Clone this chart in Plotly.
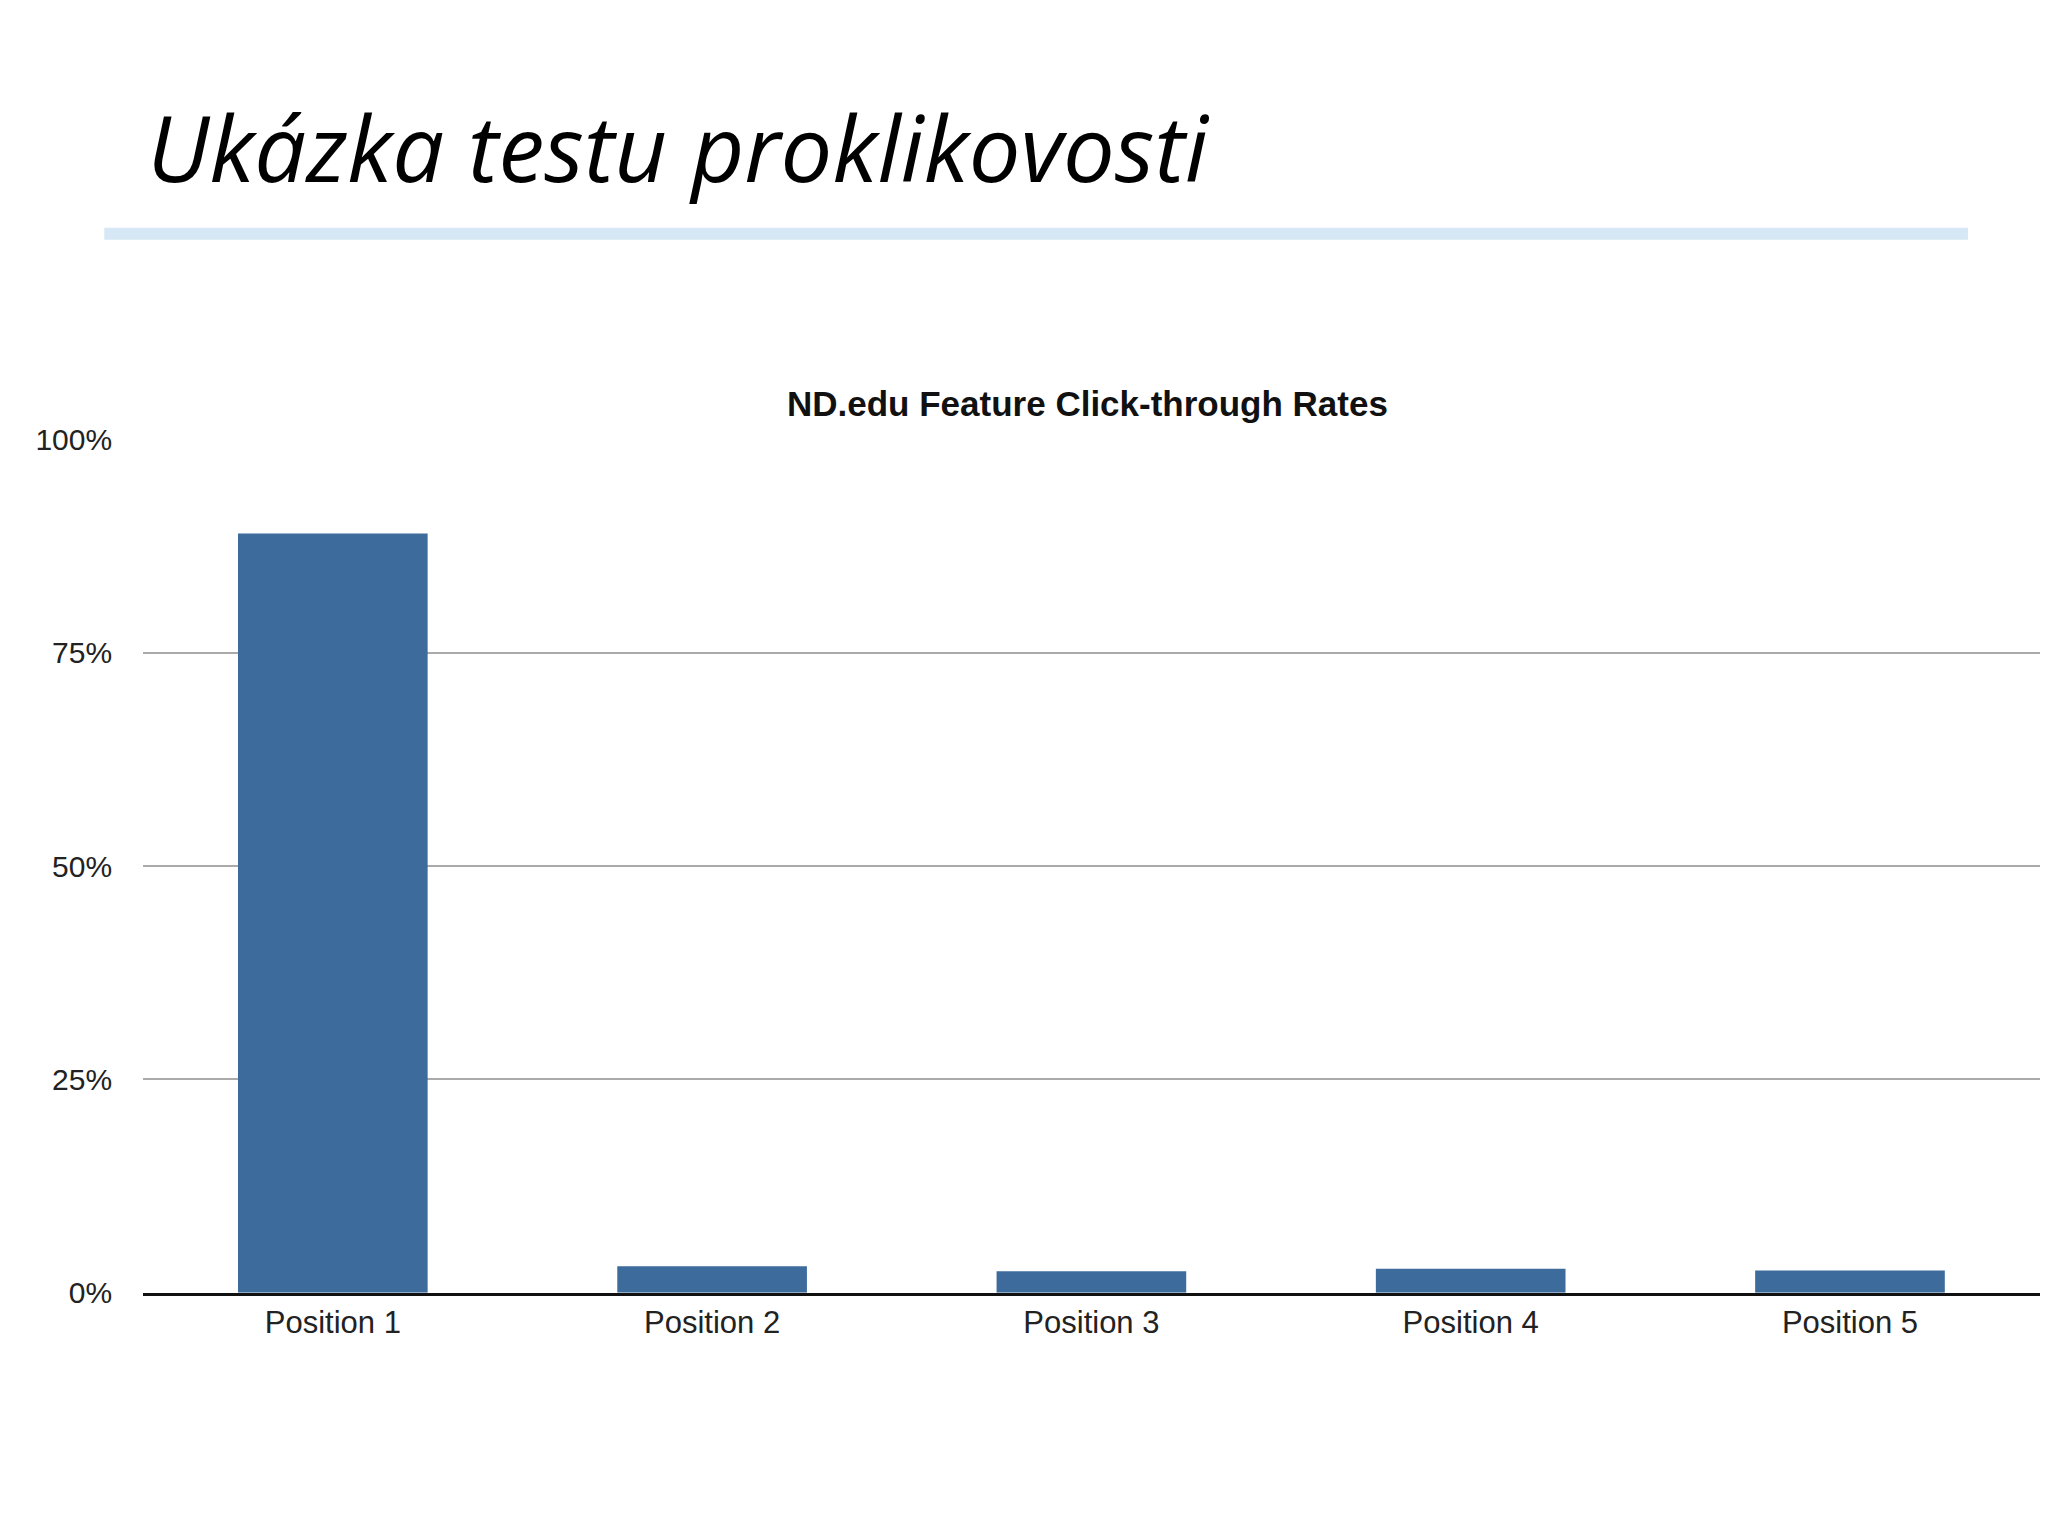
import plotly.graph_objects as go

positions = ["Position 1", "Position 2", "Position 3", "Position 4", "Position 5"]
click_rates = [89.0, 3.1, 2.5, 2.8, 2.6]
tick_vals = [0, 25, 50, 75, 100]
tick_text = ["0%", "25%", "50%", "75%", "100%"]

W, H = 2048, 1536

fig = go.Figure(go.Bar(x=positions, y=click_rates, marker_color="#3d6b9c",
                       marker_line_width=0))

fig.update_layout(
    width=W, height=H,
    paper_bgcolor="white", plot_bgcolor="white",
    margin=dict(l=0, r=0, t=0, b=0),
    showlegend=False,
    bargap=0.5,
    font=dict(family="Liberation Sans", color="#222"),
)
fig.update_xaxes(domain=[0.066, 0.992], showline=True, linecolor="#111", linewidth=3,
                 tickfont=dict(size=31), ticks="", showgrid=False)
fig.update_yaxes(domain=[0.156, 0.724], range=[0, 100], tickvals=tick_vals, ticktext=tick_text,
                 showgrid=True, gridcolor="#aaa", gridwidth=2, zeroline=False,
                 tickfont=dict(size=30), ticks="", ticklabelstandoff=30)

# slide title and underline
fig.add_annotation(text="<i>Ukázka testu proklikovosti</i>", x=0.067, y=0.919, xref="paper", yref="paper",
                   xanchor="left", yanchor="middle", showarrow=False,
                   font=dict(family="Open Sans", size=92, color="black"))
fig.add_shape(type="line", xref="paper", yref="paper", x0=0.047, x1=0.957, y0=0.861, y1=0.861,
              line=dict(color="#d6e8f5", width=12))
# chart title
fig.add_annotation(text="<b>ND.edu Feature Click-through Rates</b>", x=0.527, y=0.762,
                   xref="paper", yref="paper", showarrow=False,
                   font=dict(size=35, color="#111"))

fig.write_html("out.html")
